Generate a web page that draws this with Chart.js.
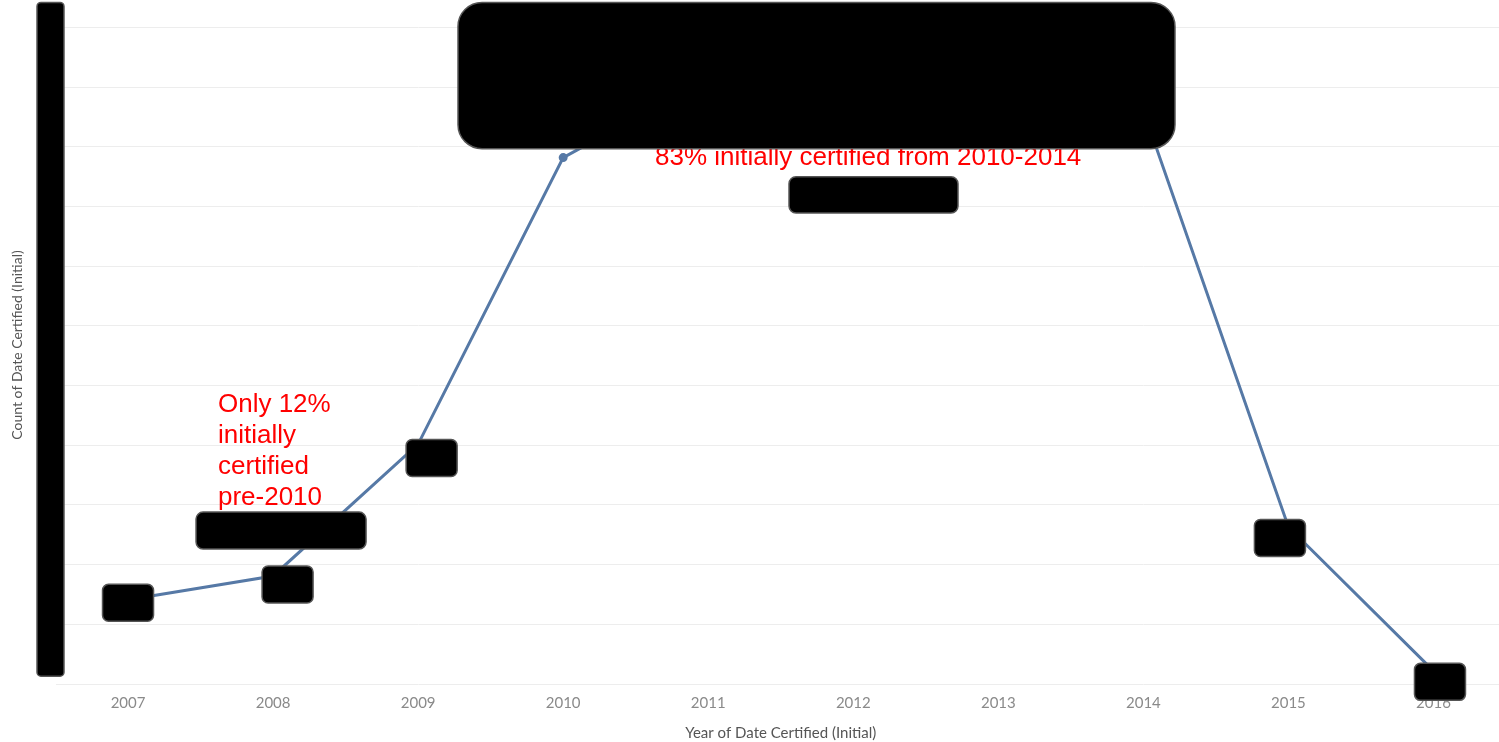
<!DOCTYPE html>
<html>
<head>
<meta charset="utf-8">
<script src="https://cdn.jsdelivr.net/npm/chart.js@4"></script>
<style>
  html, body { margin: 0; padding: 0; background: #fff; overflow: hidden; }
  #wrap { width: 1499px; height: 742px; overflow: hidden; }
  #certChart { display: block; }
</style>
</head>
<body>
<!-- the plot runs a little past the right edge of the window, as in the original -->
<div id="wrap"><canvas id="certChart" width="1512" height="742"></canvas></div>
<script>
const years = ['2007', '2008', '2009', '2010', '2011', '2012', '2013', '2014', '2015', '2016'];
const counts = [141, 181, 402, 882, 1015, 1060, 1090, 961, 263, 22];
const yTicks = [0, 100, 200, 300, 400, 500, 600, 700, 800, 900, 1000, 1100];

// red notes, placed in data units (x = category index, y = count at baseline)
const notes = [
  { lines: ['Only 12%', 'initially', 'certified', 'pre-2010'], x: 0.62, y: 455 },
  { lines: ['83% initially certified from 2010-2014'], x: 3.633, y: 869 }
];

// black redaction boxes over value labels: [point index, dx, dy, w, h]
const labelBoxes = [
  [0, 0, 3, 51, 37],
  [1, 14.5, 8.5, 51, 37],
  [2, 13.5, 14, 51, 37],
  [8, -8.5, 11, 51, 37],
  [9, 6.5, 11, 51, 37]
];
// free boxes in data units: [x0, x1, yTop, yBottom, radius]
const areaBoxes = [
  [2.275, 7.218, 1142, 897, 24],
  [4.557, 5.722, 850, 789, 7],
  [0.469, 1.641, 288, 226, 7]
];

const redactPlugin = {
  id: 'redact',
  afterDraw(chart) {
    const { ctx, scales: { x, y } } = chart;
    ctx.save();
    ctx.fillStyle = '#ff0000';
    ctx.font = '26px "Liberation Sans", Arial, sans-serif';
    ctx.textBaseline = 'alphabetic';
    notes.forEach(n => {
      n.lines.forEach((t, i) => {
        ctx.fillText(t, x.getPixelForValue(n.x), y.getPixelForValue(n.y) + i * 31);
      });
    });

    const box = (l, t, w, h, r) => {
      ctx.beginPath();
      ctx.roundRect(l, t, w, h, r);
      ctx.fillStyle = '#000';
      ctx.fill();
      ctx.lineWidth = 1.5;
      ctx.strokeStyle = '#555';
      ctx.stroke();
    };

    // bar over the y tick labels
    box(y.left + 37, y.getPixelForValue(1142), 27, y.getPixelForValue(13) - y.getPixelForValue(1142), 4);

    const pts = chart.getDatasetMeta(0).data;
    labelBoxes.forEach(([i, dx, dy, w, h]) => {
      box(pts[i].x + dx - w / 2, pts[i].y + dy - h / 2, w, h, 6);
    });
    areaBoxes.forEach(([x0, x1, yt, yb, r]) => {
      const l = x.getPixelForValue(x0), rr = x.getPixelForValue(x1);
      const t = y.getPixelForValue(yt), b = y.getPixelForValue(yb);
      box(l, t, rr - l, b - t, r);
    });
    ctx.restore();
  }
};

new Chart(document.getElementById('certChart'), {
  type: 'line',
  data: {
    labels: years,
    datasets: [{
      data: counts,
      borderColor: '#5679a6',
      backgroundColor: '#5679a6',
      borderWidth: 3,
      pointRadius: 3,
      pointHoverRadius: 3,
      tension: 0
    }]
  },
  options: {
    responsive: false,
    animation: false,
    layout: { padding: 0 },
    plugins: {
      legend: { display: false },
      tooltip: { enabled: false }
    },
    scales: {
      x: {
        offset: true,
        grid: { display: false, drawTicks: false },
        border: { display: false },
        ticks: {
          color: '#8a8a8a',
          padding: 10,
          font: { family: 'Lato, "Open Sans", sans-serif', size: 15 }
        },
        title: {
          display: true,
          text: 'Year of Date Certified (Initial)',
          color: '#555',
          font: { family: 'Lato, "Open Sans", sans-serif', size: 15 },
          padding: { top: 0, bottom: 0 }
        },
        afterFit(scale) { scale.height = 58; }
      },
      y: {
        min: 0,
        max: 1136,
        afterBuildTicks(scale) { scale.ticks = yTicks.map(v => ({ value: v })); },
        grid: { color: '#ededed', lineWidth: 1, drawTicks: false },
        border: { display: false },
        ticks: { display: false },
        title: {
          display: true,
          text: 'Count of Date Certified (Initial)',
          color: '#555',
          font: { family: 'Lato, "Open Sans", sans-serif', size: 14 },
          padding: { top: 9, bottom: 0 }
        },
        afterFit(scale) { scale.width = 55.5; }
      }
    }
  },
  plugins: [redactPlugin]
});
</script>
</body>
</html>
